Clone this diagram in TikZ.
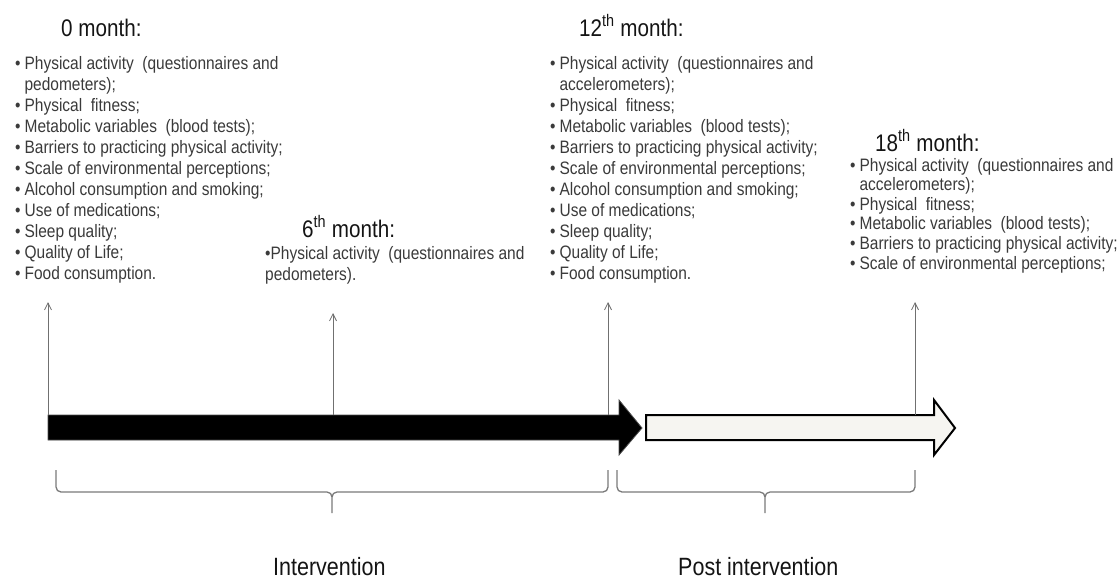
\documentclass[tikz,border=0pt]{standalone}
\usepackage{fontspec}
\setmainfont{Liberation Sans}[FakeStretch=0.86]
\usetikzlibrary{arrows.meta}
\newcommand\ttlfont{\fontsize{24}{29}\selectfont}
\newcommand\lblfont{\fontsize{25}{30}\selectfont}
\newcommand\lstfont{\fontsize{18}{21}\selectfont}
\newcommand\lstfontb{\fontsize{18}{19.6}\selectfont}
\definecolor{listgray}{HTML}{3A3A3A}
\definecolor{ticgray}{HTML}{707070}
\definecolor{bracegray}{HTML}{7A7A7A}
\definecolor{postfill}{HTML}{F6F5F1}
\begin{document}
\begin{tikzpicture}[x=1pt,y=-1pt,
  ttl/.style={font=\ttlfont, anchor=base west, inner sep=0pt, text=black!92},
  lbl/.style={font=\lblfont, anchor=base west, inner sep=0pt, text=black!92},
  blist/.style={font=\lstfont, anchor=base west, inner sep=0pt, text=listgray},
  blistb/.style={font=\lstfontb, anchor=base west, inner sep=0pt, text=listgray},
  tick/.style={draw=ticgray, line width=0.8pt, -{Straight Barb[length=7pt,width=7pt]}},
  bracestyle/.style={draw=bracegray, line width=1.3pt},
  bararrow/.style={fill=black, draw=black!70, line width=0.8pt, line join=miter},
  postarrow/.style={fill=postfill, draw=black, line width=2pt, line join=miter}]
\useasboundingbox (0,0) rectangle (1119,579);

% titles
\node[ttl] (t0) at (61,36) {0 month:};
\node[ttl] (t6) at (302,237) {6\textsuperscript{th} month:};
\node[ttl] (t12) at (579,36) {12\textsuperscript{th} month:};
\node[ttl] (t18) at (875,151) {18\textsuperscript{th} month:};

% lists
\node[blist] (l0) at (15,69) {\begin{tabular}[t]{@{}l@{\hspace{4pt}}l@{}}
\textbullet & Physical activity\ \ (questionnaires and\\
 & pedometers);\\
\textbullet & Physical\ \ fitness;\\
\textbullet & Metabolic variables\ \ (blood tests);\\
\textbullet & Barriers to practicing physical activity;\\
\textbullet & Scale of environmental perceptions;\\
\textbullet & Alcohol consumption and smoking;\\
\textbullet & Use of medications;\\
\textbullet & Sleep quality;\\
\textbullet & Quality of Life;\\
\textbullet & Food consumption.
\end{tabular}};

\node[blist] (l6) at (265,259) {\begin{tabular}[t]{@{}l@{}}
\textbullet Physical activity\ \ (questionnaires and\\
pedometers).
\end{tabular}};

\node[blist] (l12) at (550,69) {\begin{tabular}[t]{@{}l@{\hspace{4pt}}l@{}}
\textbullet & Physical activity\ \ (questionnaires and\\
 & accelerometers);\\
\textbullet & Physical\ \ fitness;\\
\textbullet & Metabolic variables\ \ (blood tests);\\
\textbullet & Barriers to practicing physical activity;\\
\textbullet & Scale of environmental perceptions;\\
\textbullet & Alcohol consumption and smoking;\\
\textbullet & Use of medications;\\
\textbullet & Sleep quality;\\
\textbullet & Quality of Life;\\
\textbullet & Food consumption.
\end{tabular}};

\node[blistb] (l18) at (850,171) {\begin{tabular}[t]{@{}l@{\hspace{4pt}}l@{}}
\textbullet & Physical activity\ \ (questionnaires and\\
 & accelerometers);\\
\textbullet & Physical\ \ fitness;\\
\textbullet & Metabolic variables\ \ (blood tests);\\
\textbullet & Barriers to practicing physical activity;\\
\textbullet & Scale of environmental perceptions;
\end{tabular}};

% timeline arrows
\draw[bararrow] (48,415) -- (619,415) -- (619,400) -- (642,428) -- (619,455) -- (619,440) -- (48,440) -- cycle;
\draw[postarrow] (646,415) -- (934,415) -- (934,400) -- (955,428) -- (934,455) -- (934,440) -- (646,440) -- cycle;

% measurement ticks
\coordinate (b0) at (48,415);   \coordinate (a0) at (48,302);
\coordinate (b6) at (333,415);  \coordinate (a6) at (333,313);
\coordinate (b12) at (608,415); \coordinate (a12) at (608,302);
\coordinate (b18) at (915,415); \coordinate (a18) at (915,302);
\draw[tick] (b0) -- (a0);
\draw[tick] (b6) -- (a6);
\draw[tick] (b12) -- (a12);
\draw[tick] (b18) -- (a18);

% braces
\draw[bracestyle] (56,470) -- (56,487) to[out=-90,in=180] (61,492) -- (327,492) to[out=0,in=90] (332,497) -- (332,513);
\draw[bracestyle] (332,497) to[out=90,in=180] (337,492) -- (603,492) to[out=0,in=-90] (608,487) -- (608,470);
\draw[bracestyle] (617,470) -- (617,487) to[out=-90,in=180] (622,492) -- (760,492) to[out=0,in=90] (765,497) -- (765,513);
\draw[bracestyle] (765,497) to[out=90,in=180] (770,492) -- (910,492) to[out=0,in=-90] (915,487) -- (915,470);

% phase labels
\node[lbl] (int) at (273,575) {Intervention};
\node[lbl] (post) at (678,575) {Post intervention};
\end{tikzpicture}
\end{document}
